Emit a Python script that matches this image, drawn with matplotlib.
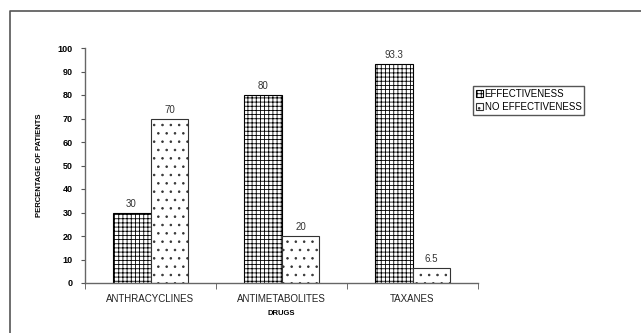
import matplotlib
matplotlib.use('Agg')
import matplotlib.pyplot as plt
from matplotlib.lines import Line2D
import numpy as np

drugs = ['ANTHRACYCLINES', 'ANTIMETABOLITES', 'TAXANES']
effective = [30, 80, 93.3]
not_effective = [70, 20, 6.5]
effective_labels = ['30', '80', '93.3']
not_effective_labels = ['70', '20', '6.5']
series_names = ['EFFECTIVENESS', 'NO EFFECTIVENESS']

plt.rcParams['font.family'] = ['Liberation Sans', 'DejaVu Sans']
plt.rcParams['hatch.linewidth'] = 0.6

W, H = 641, 333
fig = plt.figure(figsize=(W/100, H/100), dpi=100)
# outer frame (left and top edges only)
fig.add_artist(Line2D([10/W, 10/W, 1.0], [0.0, 1-11/H, 1-11/H],
                      transform=fig.transFigure, color='#555555', lw=1.2))

ax = fig.add_axes([85/W, 1-283/H, (478-85)/W, (283-48)/H])
x = np.arange(len(drugs))
bw = 0.29
b1 = ax.bar(x - bw/2, effective, bw, color='white', edgecolor='black',
            hatch='++++', lw=0.8, label=series_names[0])
b2 = ax.bar(x + bw/2, not_effective, bw, color='white', edgecolor='#333333',
            hatch='..', lw=0.8, label=series_names[1])
for bars, labs in ((b1, effective_labels), (b2, not_effective_labels)):
  for r, t in zip(bars, labs):
    ax.text(r.get_x() + r.get_width()/2, r.get_height() + 1.5, t,
            ha='center', va='bottom', fontsize=7, color='#333333')

ax.set_xlim(-0.5, len(drugs) - 0.5)
ax.set_ylim(0, 100)
ax.set_yticks(range(0, 101, 10))
ax.set_xticks(x)
ax.set_xticklabels(drugs, fontsize=7, color='#222222')
ax.set_xticks(np.arange(-0.5, len(drugs), 1.0), minor=True)
ax.tick_params(axis='x', which='major', length=0, pad=8)
ax.tick_params(axis='x', which='minor', length=4, color='#555555')
ax.tick_params(axis='y', length=3, labelsize=6.5, color='#555555', pad=6)
for t in ax.get_yticklabels():
  t.set_fontweight('bold')
for s in ('top', 'right'):
  ax.spines[s].set_visible(False)
for s in ('left', 'bottom'):
  ax.spines[s].set_color('#666666')
  ax.spines[s].set_linewidth(1.0)
ax.set_ylabel('PERCENTAGE OF PATIENTS', fontsize=5.5, fontweight='bold', labelpad=10)
ax.set_xlabel('DRUGS', fontsize=5.5, fontweight='bold', labelpad=4)

fig.legend(loc='upper left', bbox_to_anchor=(473/W, 1-86/H), fontsize=7,
           fancybox=False, edgecolor='#555555', framealpha=1,
           handlelength=0.7, handleheight=0.7, handletextpad=0.2,
           borderpad=0.3, labelspacing=0.3, borderaxespad=0)

fig.savefig('out.png', dpi=100)
